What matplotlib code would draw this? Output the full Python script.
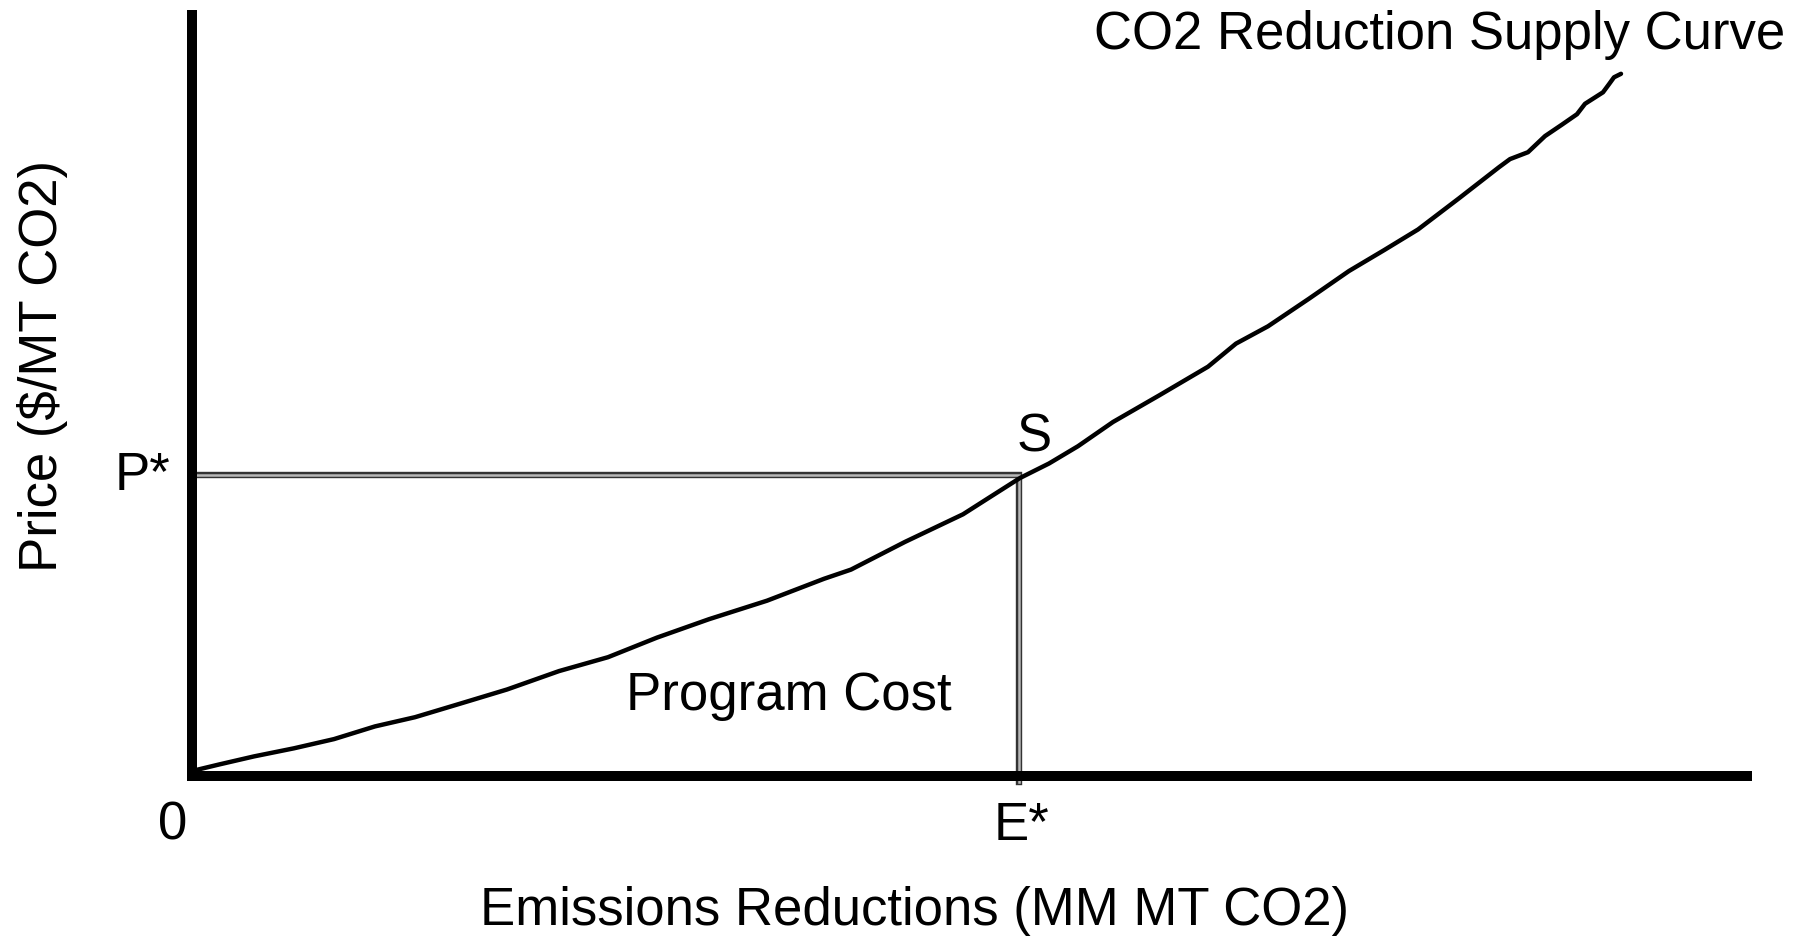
import numpy as np
import matplotlib
matplotlib.use("Agg")
import matplotlib.pyplot as plt

plt.rcParams['font.family'] = ['Liberation Sans', 'DejaVu Sans']

# supply curve (arbitrary units)
emis = [0, 27, 62, 102, 142, 183, 223, 269, 315, 367, 416, 465, 517, 575, 632,
        659, 713, 771, 800, 828, 857, 886, 921, 967, 1016, 1044, 1076, 1117,
        1157, 1192, 1226, 1267, 1307, 1318, 1336, 1353, 1370, 1385, 1393,
        1411, 1417, 1422, 1429]
price = [5, 11.5, 19.6, 27.7, 36.9, 49.6, 58.8, 72.6, 86.5, 104.9, 118.8,
         138.4, 156.8, 175.3, 197.2, 206.4, 234.1, 261.7, 280.2, 298, 312.5,
         329.8, 354.0, 380.5, 409.3, 432.4, 449.7, 477.3, 505.0, 525.8, 546.5,
         577.7, 608.8, 616.9, 623.8, 639.9, 651.4, 661.8, 672.2, 683.7, 691.8,
         698.7, 702.2]
p_star = 301
e_star = 827

W, H = 1808, 937
fig = plt.figure(figsize=(W / 100, H / 100), dpi=100)
ax = fig.add_axes([192 / W, (H - 777) / H, (1747 - 192) / W, (777 - 11) / H])
ax.set_xlim(0, 1555)
ax.set_ylim(0, 766)

for s in ['top', 'right']:
    ax.spines[s].set_visible(False)
for s in ['left', 'bottom']:
    ax.spines[s].set_linewidth(7.2)
ax.spines['left'].set_capstyle('butt')
ax.spines['bottom'].set_capstyle('projecting')
ax.set_xticks([])
ax.set_yticks([])

# P* / E* lines
for lw, c in [(4.6, '#333333'), (1.8, '#b8b8b8')]:
    ax.plot([0, e_star, e_star], [p_star, p_star, -6], color=c, lw=lw,
            solid_joinstyle='miter', clip_on=False)

ax.plot(emis, price, color='black', lw=3.2, clip_on=False,
        solid_capstyle='round', solid_joinstyle='round')

fs = 38
ax.text(e_star - 2, p_star + 38, 'S', fontsize=fs, ha='left', va='center')
ax.text(-22, p_star, 'P*', fontsize=fs, ha='right', va='center')
ax.text(e_star + 2, -49, 'E*', fontsize=fs, ha='center', va='center')
ax.text(-19, -49, '0', fontsize=fs, ha='center', va='center')
ax.text(597, 81, 'Program Cost', fontsize=fs, ha='center', va='center')
ax.text(1593, 742, 'CO2 Reduction Supply Curve', fontsize=fs, ha='right',
        va='center')

fig.text(915 / W, 1 - 911 / H, 'Emissions Reductions (MM MT CO2)', fontsize=fs,
         ha='center', va='center')
fig.text(43 / W, 1 - 366 / H, 'Price ($/MT CO2)', fontsize=fs, rotation=90,
         ha='center', va='center')

fig.savefig('out.png', dpi=100)
